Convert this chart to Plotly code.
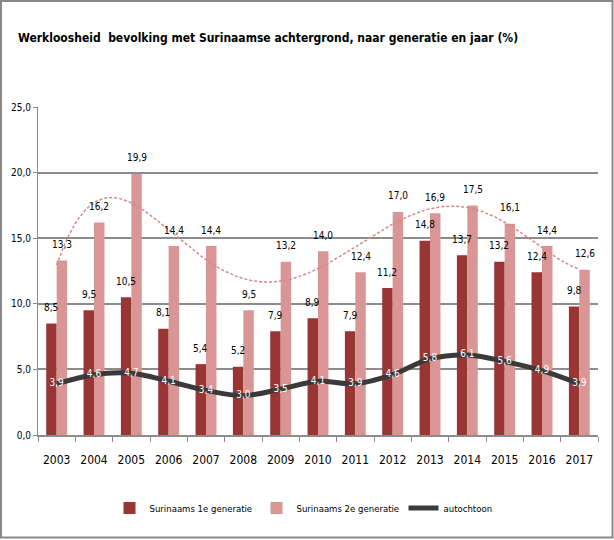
import numpy as np
import plotly.graph_objects as go

years = ["2003", "2004", "2005", "2006", "2007", "2008", "2009", "2010",
         "2011", "2012", "2013", "2014", "2015", "2016", "2017"]
gen1 = [8.5, 9.5, 10.5, 8.1, 5.4, 5.2, 7.9, 8.9, 7.9, 11.2, 14.8, 13.7, 13.2, 12.4, 9.8]
gen2 = [13.3, 16.2, 19.9, 14.4, 14.4, 9.5, 13.2, 14.0, 12.4, 17.0, 16.9, 17.5, 16.1, 14.4, 12.6]
autochtoon = [3.9, 4.6, 4.7, 4.1, 3.4, 3.0, 3.5, 4.1, 3.9, 4.6, 5.8, 6.1, 5.6, 4.9, 3.9]
yticks = [0, 5, 10, 15, 20, 25]

FONT = "DejaVu Sans Condensed, DejaVu Sans, sans-serif"
C1 = "#993535"
C2 = "#D99694"
CL = "#3A3A3A"
GRID = "#8C8C8C"

def fmt(v):
    return f"{v:.1f}".replace(".", ",")

xi = np.arange(len(years))

# polynomial trend line of the 2e generatie series (as in the original chart)
coef = np.polyfit(xi, gen2, 6)
xs = np.linspace(0, len(years) - 1, 200)
ys = np.polyval(coef, xs)

fig = go.Figure()
fig.add_trace(go.Bar(x=xi, y=gen1, name="Surinaams 1e generatie",
                     marker=dict(color=C1, line=dict(width=0))))
fig.add_trace(go.Bar(x=xi, y=gen2, name="Surinaams 2e generatie",
                     marker=dict(color=C2, line=dict(width=0))))
fig.add_trace(go.Scatter(x=xs, y=ys, mode="lines", showlegend=False,
                         line=dict(color="#D4898A", width=1.5, dash="3px,2px"),
                         hoverinfo="skip"))
fig.add_trace(go.Scatter(x=xi, y=autochtoon, name="autochtoon",
                         mode="lines+text", line=dict(color=CL, width=5, shape="spline"),
                         text=[fmt(v) for v in autochtoon], textposition="middle center",
                         textfont=dict(color="white", size=10, family=FONT)))

annotations = []
for i in range(len(years)):
    annotations.append(dict(x=xi[i], y=gen1[i], xref="x", yref="y", text=fmt(gen1[i]),
                            showarrow=False, xshift=-5.3, yshift=16,
                            font=dict(size=10, color="#000", family=FONT)))
    annotations.append(dict(x=xi[i], y=gen2[i], xref="x", yref="y", text=fmt(gen2[i]),
                            showarrow=False, xshift=5.3, yshift=16,
                            font=dict(size=10, color="#000", family=FONT)))

W, H = 614, 540
ML, MR, MT, MB = 38, 16, 107, 105
pw, ph = W - ML - MR, H - MT - MB

shapes = [dict(type="rect", xref="paper", yref="paper",
               x0=-(ML - 1) / pw, x1=1 + (MR - 1.5) / pw,
               y0=-(MB - 2.5) / ph, y1=1 + (MT - 1) / ph,
               line=dict(color="#888888", width=2), fillcolor="rgba(0,0,0,0)",
               layer="above")]

fig.update_layout(
    width=W, height=H,
    margin=dict(l=ML, r=MR, t=MT, b=MB, autoexpand=False),
    paper_bgcolor="white", plot_bgcolor="white",
    font=dict(family=FONT, size=11, color="#000"),
    title=dict(text="<b>Werkloosheid\u00a0 bevolking met Surinaamse achtergrond, naar generatie en jaar (%)</b>",
               x=268 / W, xanchor="center", y=1 - 38 / H, yanchor="middle",
               font=dict(size=12, family=FONT, color="#000")),
    barmode="group", bargap=0.44, bargroupgap=0,
    xaxis=dict(range=[-0.5, len(years) - 0.5], tickmode="array", tickvals=list(xi),
               ticktext=years, showgrid=False, zeroline=False, automargin=False,
               showline=True, linecolor=GRID, linewidth=2, ticks="",
               ticklabelstandoff=13,
               tickfont=dict(size=12, family=FONT),
               minor=dict(tickmode="array", tickvals=[v + 0.5 for v in range(-1, len(years))],
                          ticks="outside", ticklen=5, tickcolor=GRID, tickwidth=1, showgrid=False)),
    yaxis=dict(range=[0, 25], tickmode="array", tickvals=yticks,
               ticktext=[fmt(v) for v in yticks], automargin=False,
               showgrid=True, gridcolor=GRID, gridwidth=2, zeroline=False,
               showline=True, linecolor=GRID, linewidth=1, ticks="outside",
               ticklen=4, tickcolor=GRID, tickfont=dict(size=10, family=FONT)),
    legend=dict(orientation="h", x=0.5 + 12 / pw, xanchor="center", y=-(508 - 435) / ph,
                yanchor="middle", font=dict(size=9.5, family=FONT), traceorder="normal",
                entrywidth=102),
    annotations=annotations,
    shapes=shapes,
    showlegend=True,
)

fig.write_html("out.html", config={"displayModeBar": False},
               post_script="document.body.style.margin='0';document.body.style.padding='0';")
